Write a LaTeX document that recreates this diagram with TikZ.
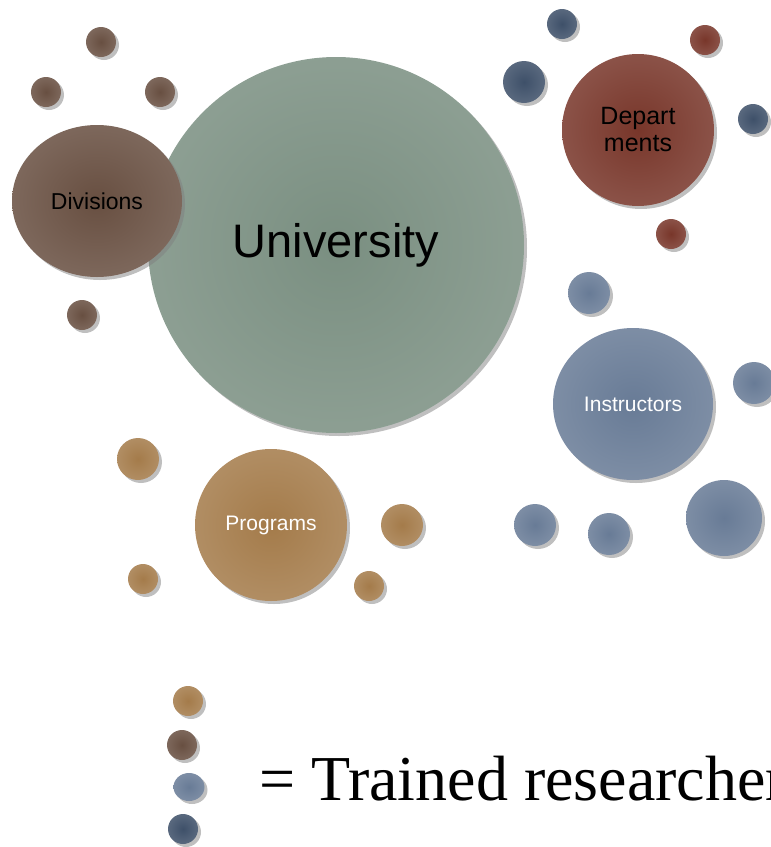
\documentclass[tikz,border=0pt]{standalone}
\usepackage{fontspec}
\setmainfont{Liberation Sans}
\newfontfamily\legendfont{Liberation Serif}
\usetikzlibrary{shapes.geometric,shadows}

\definecolor{unigreen}{HTML}{7A8F81}
\definecolor{divbrown}{HTML}{684F41}
\definecolor{deptred}{HTML}{78362A}
\definecolor{deepblue}{HTML}{3E5069}
\definecolor{instblue}{HTML}{687B96}
\definecolor{progtan}{HTML}{A47B4A}

\begin{document}
\begin{tikzpicture}[x=1pt, y=-1pt,
  every node/.style={inner sep=0pt, align=center},
  bubble/.style={shading=radial, inner color=#1, outer color=#1!86!white,
    drop shadow={shadow xshift=3pt, shadow yshift=-3pt, opacity=0.5}},
  dot/.style={circle, minimum size=30pt},
  ball/.style={circle, minimum size=42pt}
]
\tikzset{
  bigball/.style={circle, minimum size=152pt, font=\fontsize{25}{27}\selectfont},
  egg/.style={ellipse, minimum width=#1, minimum height=152pt}
}
\path[use as bounding box, clip] (0,0) rectangle (771,847);

% university and divisions
\node[bubble=unigreen, circle, minimum size=376pt,
  font=\fontsize{47}{47}\selectfont] (uni) at (336,245) {University};
\node[bubble=divbrown, egg=170pt, font=\fontsize{23}{23}\selectfont] (div) at (97,201) {Divisions};
\node[bubble=divbrown, dot] (div1) at (101,42) {};
\node[bubble=divbrown, dot] (div2) at (46,92) {};
\node[bubble=divbrown, dot] (div3) at (160,92) {};
\node[bubble=divbrown, dot] (div4) at (82,315) {};

% departments
\node[bubble=deptred, bigball] (dept) at (638,130) {Depart\\ments};
\node[bubble=deptred, dot] (dept1) at (705,40) {};
\node[bubble=deptred, dot] (dept2) at (671,234) {};
\node[bubble=deepblue, dot] (deep1) at (562,24) {};
\node[bubble=deepblue, ball] (deep2) at (524,82) {};
\node[bubble=deepblue, dot] (deep3) at (753,119) {};

% instructors
\node[bubble=instblue, egg=160pt, text=white,
  font=\fontsize{21}{21}\selectfont] (inst) at (633,404) {Instructors};
\node[bubble=instblue, ball] (inst1) at (589,293) {};
\node[bubble=instblue, ball] (inst2) at (754,383) {};
\node[bubble=instblue, ball] (inst3) at (535,525) {};
\node[bubble=instblue, ball] (inst4) at (609,534) {};
\node[bubble=instblue, circle, minimum size=76pt] (inst5) at (724,518) {};

% programs
\node[bubble=progtan, bigball, text=white,
  font=\fontsize{21}{21}\selectfont] (prog) at (271,525) {Programs};
\node[bubble=progtan, ball] (prog1) at (138,459) {};
\node[bubble=progtan, ball] (prog2) at (402,525) {};
\node[bubble=progtan, dot] (prog3) at (143,579) {};
\node[bubble=progtan, dot] (prog4) at (369,586) {};

% legend
\node[bubble=progtan, dot] (key1) at (188,701) {};
\node[bubble=divbrown, dot] (key2) at (182,745) {};
\node[bubble=instblue, ellipse, minimum width=31pt, minimum height=28pt] (key3) at (189,787) {};
\node[bubble=deepblue, dot] (key4) at (183,829) {};
\node[anchor=base west, font=\legendfont\fontsize{64}{64}\selectfont]
  (keytext) at (259,800) {= Trained researchers};
\end{tikzpicture}
\end{document}
